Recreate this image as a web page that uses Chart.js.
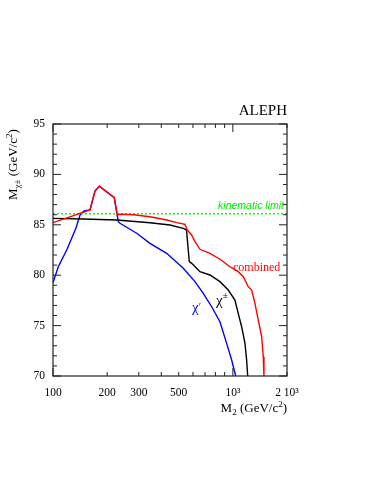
<!DOCTYPE html>
<html>
<head>
<meta charset="utf-8">
<script src="https://cdn.jsdelivr.net/npm/chart.js@4.4.0/dist/chart.umd.min.js"></script>
<style>
  html, body { margin: 0; padding: 0; background: #fff; }
</style>
</head>
<body>
<canvas id="myChart" width="387" height="501"></canvas>
<script>
// axis ticks
const xTicks = [100, 200, 300, 500, 1000, 2000];
const xTickLabels = ['100', '200', '300', '500', '10³', '2 10³'];
const yTicks = [70, 75, 80, 85, 90, 95];

// combined exclusion (red)
const combinedM2 = [100, 160.6, 171.2, 180.9, 219.1, 227.7, 235.7, 279.5, 346.1, 428.5, 487.1, 541.7, 557.8, 590.2, 615.7, 656.5, 745.9, 847.6, 963.6, 1071.5, 1142, 1218, 1272, 1327, 1384, 1446, 1476, 1489];
const combinedM = [85.21, 86.47, 88.35, 88.82, 87.69, 85.97, 86.04, 86.0, 85.8, 85.48, 85.21, 85.05, 84.48, 83.99, 83.32, 82.57, 82.17, 81.58, 80.84, 80.35, 79.85, 78.86, 78.53, 77.21, 75.56, 73.9, 71.91, 70.0];

// chargino search (black)
const charginoM2 = [100, 147.4, 226, 346.1, 447.1, 530.2, 552.4, 572.5, 590.2, 656.5, 745.9, 847.6, 942.8, 1027, 1071, 1119, 1168, 1193, 1209];
const charginoM = [85.64, 85.58, 85.48, 85.21, 84.98, 84.65, 84.48, 81.34, 81.18, 80.35, 80.02, 79.36, 78.53, 77.54, 76.22, 74.89, 73.24, 71.59, 70.0];

// neutralino search (blue)
const neutralinoM2 = [100, 107, 119.2, 134.2, 141.3, 148.7, 160.6, 171.2, 180.9, 219.1, 230.7, 235.7, 292, 346.1, 428.5, 530.2, 615.7, 684.6, 762.3, 847.6, 923.6, 984.7, 1036.6];
const neutralinoM = [79.26, 80.84, 82.5, 84.68, 85.97, 86.37, 86.47, 88.35, 88.82, 87.69, 85.31, 85.15, 84.16, 83.16, 82.17, 80.68, 79.36, 78.2, 76.87, 75.39, 73.24, 71.59, 70.0];

const kinematicLimit = 86.1;
const limitM2 = [100, 2000];

const toPoints = (xs, ys) => xs.map((x, i) => ({ x: x, y: ys[i] }));

const serif = '"Liberation Serif", "DejaVu Serif", serif';

function drawRich(ctx, parts, x, y) {
  let cx = x;
  parts.forEach(p => {
    ctx.font = p.size + 'px ' + serif;
    ctx.fillText(p.t, cx, y + (p.dy || 0));
    cx += ctx.measureText(p.t).width;
  });
  return cx - x;
}
function richWidth(ctx, parts) {
  let w = 0;
  parts.forEach(p => {
    ctx.font = p.size + 'px ' + serif;
    w += ctx.measureText(p.t).width;
  });
  return w;
}

const frame = {
  id: 'frame',
  afterDraw(chart) {
    const ctx = chart.ctx;
    const a = chart.chartArea;
    const xs = chart.scales.x;
    const ys = chart.scales.y;
    ctx.save();
    ctx.strokeStyle = '#222';
    ctx.lineWidth = 1.2;
    ctx.strokeRect(a.left, a.top, a.right - a.left, a.bottom - a.top);

    // inward ticks
    ctx.lineWidth = 1;
    ctx.beginPath();
    for (let v = 70; v <= 95; v++) {
      const py = ys.getPixelForValue(v);
      const len = v % 5 === 0 ? 8 : 4;
      ctx.moveTo(a.left, py); ctx.lineTo(a.left + len, py);
      ctx.moveTo(a.right, py); ctx.lineTo(a.right - len, py);
    }
    const xt = [100, 200, 300, 400, 500, 600, 700, 800, 900, 1000, 2000];
    xt.forEach(v => {
      const px = xs.getPixelForValue(v);
      const len = (v === 100 || v === 1000) ? 8 : 4;
      ctx.moveTo(px, a.bottom); ctx.lineTo(px, a.bottom - len);
      ctx.moveTo(px, a.top); ctx.lineTo(px, a.top + len);
    });
    ctx.stroke();

    // axis titles
    ctx.fillStyle = '#000';
    ctx.textBaseline = 'alphabetic';
    const xt2 = [
      { t: 'M', size: 13 }, { t: '2', size: 9, dy: 3 },
      { t: ' (GeV/c', size: 13 }, { t: '2', size: 9, dy: -5 }, { t: ')', size: 13 }
    ];
    const w = richWidth(ctx, xt2);
    drawRich(ctx, xt2, a.right - w, 412);

    const yt = [
      { t: 'M', size: 13 }, { t: 'χ±', size: 9, dy: 3 },
      { t: ' (GeV/c', size: 13 }, { t: '2', size: 9, dy: -5 }, { t: ')', size: 13 }
    ];
    ctx.save();
    ctx.translate(17, 200);
    ctx.rotate(-Math.PI / 2);
    drawRich(ctx, yt, 0, 0);
    ctx.restore();

    // labels
    ctx.font = '15px ' + serif;
    ctx.textAlign = 'right';
    ctx.fillText('ALEPH', a.right, 115);

    ctx.fillStyle = '#00ee00';
    ctx.font = 'italic 10.5px "Liberation Sans", Arial, sans-serif';
    ctx.fillText('kinematic limit', a.right - 3, ys.getPixelForValue(kinematicLimit) - 5);

    ctx.textAlign = 'left';
    ctx.fillStyle = '#ff0000';
    ctx.font = '12px ' + serif;
    ctx.fillText('combined', 233, 270.5);

    ctx.fillStyle = '#000';
    drawRich(ctx, [{ t: 'χ', size: 15 }, { t: '±', size: 9, dy: -7 }], 216, 305);

    ctx.fillStyle = '#0000ff';
    drawRich(ctx, [{ t: 'χ', size: 15 }, { t: '′', size: 11, dy: -2 }], 192, 312);
    ctx.restore();
  }
};

new Chart(document.getElementById('myChart'), {
  type: 'line',
  data: {
    datasets: [
      {
        label: 'combined',
        data: toPoints(combinedM2, combinedM),
        borderColor: '#ff0000',
        borderWidth: 1.4,
        pointRadius: 0,
      },
      {
        label: 'kinematic limit',
        data: toPoints(limitM2, limitM2.map(() => kinematicLimit)),
        borderColor: '#00ff00',
        borderWidth: 1.5,
        borderDash: [2, 2],
        pointRadius: 0,
      },
      {
        label: 'chargino',
        data: toPoints(charginoM2, charginoM),
        borderColor: '#000000',
        borderWidth: 1.4,
        pointRadius: 0,
      },
      {
        label: 'neutralino',
        data: toPoints(neutralinoM2, neutralinoM),
        borderColor: '#0000ff',
        borderWidth: 1.4,
        pointRadius: 0,
      },
    ],
  },
  options: {
    responsive: false,
    animation: false,
    devicePixelRatio: 1,
    layout: { padding: { left: 0, top: 124, right: 100, bottom: 0 } },
    plugins: { legend: { display: false }, tooltip: { enabled: false } },
    elements: { line: { tension: 0, fill: false } },
    scales: {
      x: {
        type: 'logarithmic',
        min: 100,
        max: 2000,
        grid: { display: false, drawTicks: false },
        border: { display: false },
        afterBuildTicks: s => { s.ticks = xTicks.map(v => ({ value: v })); },
        afterFit: s => { s.height = 125; },
        ticks: {
          autoSkip: false,
          maxRotation: 0,
          padding: 10,
          color: '#000',
          font: { family: serif, size: 11.5 },
          callback: v => xTickLabels[xTicks.indexOf(v)],
        },
      },
      y: {
        type: 'linear',
        min: 70,
        max: 95,
        grid: { display: false, drawTicks: false },
        border: { display: false },
        afterBuildTicks: s => { s.ticks = yTicks.map(v => ({ value: v })); },
        afterFit: s => { s.width = 53; },
        ticks: {
          padding: 8,
          color: '#000',
          font: { family: serif, size: 11.5 },
        },
      },
    },
  },
  plugins: [frame],
});
</script>
</body>
</html>
